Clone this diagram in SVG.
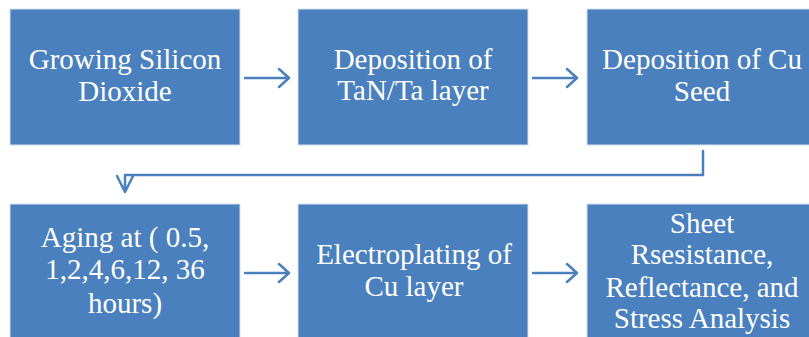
<svg xmlns="http://www.w3.org/2000/svg" width="809" height="337" viewBox="0 0 809 337">
<defs>
<style>
.box{fill:#4a80bd;stroke:#d6e2f0;stroke-width:1}
.t{font-family:"Liberation Serif","Times New Roman",serif;font-size:29px;fill:#ffffff;text-anchor:middle}
.c{fill:none;stroke:#4a80bd;stroke-width:2.5;stroke-linecap:round;stroke-linejoin:round}
</style>
</defs>
<rect width="809" height="337" fill="#ffffff"/>
<g id="n1"><rect class="box" x="10" y="9" width="230" height="136"/>
<text class="t" x="125" y="69">Growing Silicon</text><text class="t" x="125" y="101">Dioxide</text></g>
<g id="n2"><rect class="box" x="298" y="9" width="230" height="136"/>
<text class="t" x="413" y="69">Deposition of</text><text class="t" x="413" y="100">TaN/Ta layer</text></g>
<g id="n3"><rect class="box" x="587" y="9" width="230" height="136"/>
<text class="t" x="702" y="69">Deposition of Cu</text><text class="t" x="702" y="101">Seed</text></g>
<g id="n4"><rect class="box" x="10" y="204" width="230" height="140"/>
<text class="t" x="125" y="247">Aging at ( 0.5,</text><text class="t" x="125" y="279">1,2,4,6,12, 36</text><text class="t" x="125" y="313">hours)</text></g>
<g id="n5"><rect class="box" x="298" y="204" width="230" height="140"/>
<text class="t" x="414" y="264">Electroplating  of</text><text class="t" x="414" y="296">Cu layer</text></g>
<g id="n6"><rect class="box" x="587" y="204" width="230" height="140"/>
<text class="t" x="702" y="233">Sheet</text><text class="t" x="702" y="264">Rsesistance,</text><text class="t" x="702" y="297">Reflectance, and</text><text class="t" x="702" y="328">Stress Analysis</text></g>
<g id="connectors">
<path class="c" d="M245 78H289M279 69L289 78L279 87"/>
<path class="c" d="M533 78H577M567 69L577 78L567 87"/>
<path class="c" d="M703 151V175H125V192M117 176L125 192L133 176"/>
<path class="c" d="M245 273H289M279 264L289 273L279 282"/>
<path class="c" d="M533 273H577M567 264L577 273L567 282"/>
</g>
</svg>
